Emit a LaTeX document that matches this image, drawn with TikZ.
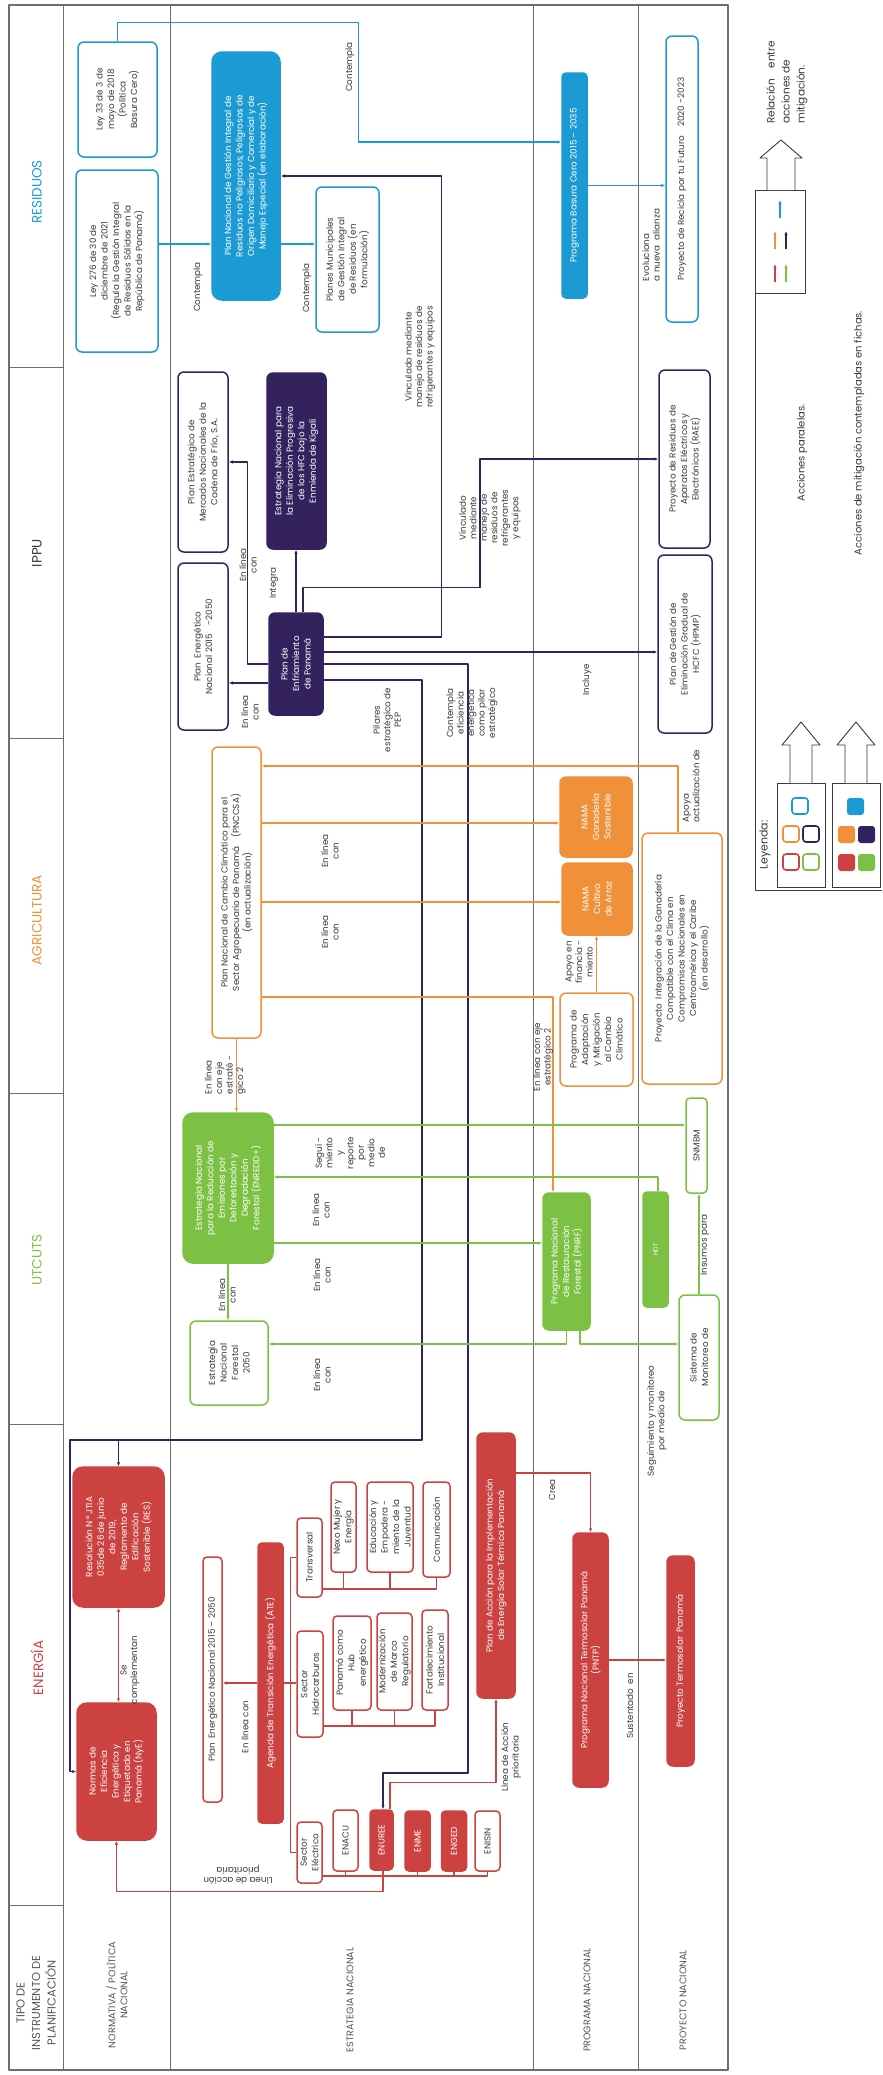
\documentclass[tikz,border=0pt]{standalone}
\usepackage{fontspec}
\setmainfont{Poppins}
\usetikzlibrary{arrows.meta}
\definecolor{fichaCyan}{HTML}{1C9AD3}
\definecolor{fichaPurple}{HTML}{33225E}
\definecolor{fichaOrange}{HTML}{F0913A}
\definecolor{fichaGreen}{HTML}{7CC143}
\definecolor{fichaRed}{HTML}{CB4240}
\definecolor{fichaInk}{HTML}{3A3A3A}
\definecolor{fichaGrid}{HTML}{6E6E6E}

\begin{document}
\begin{tikzpicture}[x=1pt,y=-1pt,>={Latex[length=4pt,width=3.4pt]},line join=round]
\path[fill=white] (0,0) rectangle (882,2075);
\tikzset{box/.style={rotate=90,rounded corners=6pt,line width=1.5pt,inner sep=1pt,align=center,font=\fontsize{8.8}{11.5}\selectfont},cyanbox/.style={box,draw=fichaCyan,fill=white,text=fichaInk},cyanfill/.style={box,draw=fichaCyan,fill=fichaCyan,text=white},purplebox/.style={box,draw=fichaPurple,fill=white,text=fichaInk},purplefill/.style={box,draw=fichaPurple,fill=fichaPurple,text=white},orangebox/.style={box,draw=fichaOrange,fill=white,text=fichaInk},orangefill/.style={box,draw=fichaOrange,fill=fichaOrange,text=white},greenbox/.style={box,draw=fichaGreen,fill=white,text=fichaInk},greenfill/.style={box,draw=fichaGreen,fill=fichaGreen,text=white},redbox/.style={box,draw=fichaRed,fill=white,text=fichaInk},redfill/.style={box,draw=fichaRed,fill=fichaRed,text=white},lblfont/.style={align=center,inner sep=0pt,text=fichaInk,font=\fontsize{8.8}{10.5}\selectfont},lbl/.style={lblfont,rotate=90},head/.style={rotate=90,font=\fontsize{13.5}{15}\selectfont},rowlbl/.style={rotate=90,align=center,text=fichaInk!85,font=\fontsize{9.6}{12}\selectfont},grid/.style={draw=fichaGrid,line width=0.9pt},cyanwire/.style={draw=fichaCyan,line width=1.1pt},purplewire/.style={draw=fichaPurple,line width=1.1pt},orangewire/.style={draw=fichaOrange,line width=1.1pt},greenwire/.style={draw=fichaGreen,line width=1.1pt},redwire/.style={draw=fichaRed,line width=1.1pt},legbox/.style={draw=fichaInk,line width=0.9pt},legtext/.style={lbl,font=\fontsize{10}{12}\selectfont}}
\draw[grid,line width=1.4pt] (9,5) rectangle (728,2070);
\draw[grid] (63,5) -- (63,2070); \draw[grid] (170,5) -- (170,2070);
\draw[grid,line width=0.6pt] (533,5) -- (533,2070); \draw[grid,line width=0.6pt] (638,5) -- (638,2070);
\draw[grid] (9,367) -- (63,367); \draw[grid] (9,738) -- (63,738); \draw[grid] (9,1093) -- (63,1093); \draw[grid] (9,1424) -- (63,1424); \draw[grid] (9,1905) -- (63,1905);
\node[head,text=fichaCyan] (hres) at (37,192) {RESIDUOS};
\node[head,text=fichaInk] (hippu) at (37,553) {IPPU};
\node[head,text=fichaOrange] (hagr) at (37,920) {AGRICULTURA};
\node[head,text=fichaGreen] (hutc) at (37,1260) {UTCUTS};
\node[head,text=fichaRed] (hene) at (37,1668) {ENERGÍA};
\node[rowlbl,font=\fontsize{11.5}{15.5}\selectfont] (htipo) at (36,2003) {TIPO DE\\INSTRUMENTO DE\\PLANIFICACIÓN};
\node[rowlbl] (rnorm) at (117,1995) {NORMATIVA / POLÍTICA\\NACIONAL};
\node[rowlbl] (rest) at (350,2000) {ESTRATEGIA NACIONAL};
\node[rowlbl] (rprog) at (587,2000) {PROGRAMA NACIONAL};
\node[rowlbl] (rproy) at (683,2000) {PROYECTO NACIONAL};
\node[cyanbox,minimum width=115pt,minimum height=79pt] (ley33) at (117.5,99.5) {Ley 33 de 3 de\\mayo de 2018\\(Política\\Basura Cero)};
\node[cyanbox,minimum width=182pt,minimum height=82pt] (ley276) at (117,261) {Ley 276 de 30 de\\diciembre de 2021\\(Regula la Gestión Integral\\de Residuos Sólidos en la\\República de Panamá)};
\node[cyanfill,rounded corners=10pt,minimum width=248pt,minimum height=68pt] (pngir) at (246,176) {Plan Nacional de Gestión Integral de\\Residuos no Peligrosos, Peligrosos de\\Origen Domiciliario y Comercial y de\\Manejo Especial (en elaboración)};
\node[cyanbox,minimum width=145pt,minimum height=63pt] (planmun) at (347.5,259.5) {Planes Municipales\\de Gestión Integral\\de Residuos (en\\formulación)};
\node[cyanfill,rounded corners=4pt,minimum width=225pt,minimum height=25pt] (basura) at (574.5,185.5) {Programa Basura Cero 2015 – 2035};
\node[cyanbox,minimum width=286pt,minimum height=32pt] (recicla) at (682,179) {Proyecto de Recicla por tu Futuro\quad 2020 -2023};
\node[purplebox,minimum width=180pt,minimum height=50pt] (pemn) at (203,462) {Plan Estratégico de\\Mercados Nacionales de la\\Cadena de Frío, S.A.};
\node[purplebox,minimum width=167pt,minimum height=50pt] (penippu) at (203,646.5) {Plan\enspace Energético\\Nacional 2015\quad -2050};
\node[purplefill,minimum width=176pt,minimum height=59pt] (kigali) at (296.5,461) {Estrategia Nacional para\\la Eliminación Progresiva\\de los HFC bajo la\\Enmienda de Kigali};
\node[purplefill,minimum width=102pt,minimum height=54pt] (penf) at (296,664) {Plan de\\Enfriamiento\\de Panamá};
\node[purplebox,minimum width=178pt,minimum height=51pt] (raee) at (684.5,459) {Proyecto de Residuos de\\Aparatos Eléctricos y\\Electrónicos (RAEE)};
\node[purplebox,minimum width=178pt,minimum height=54pt] (hpmp) at (685,644) {Plan de Gestión de\\Eliminación Gradual de\\HCFC (HPMP)};
\node[orangebox,minimum width=291pt,minimum height=49pt] (pnccsa) at (236.5,892.5) {Plan Nacional de Cambio Climático para el\\Sector Agropecuario de Panamá\quad (PNCCSA)\\(en actualización)};
\node[orangefill,minimum width=80pt,minimum height=72pt] (namagan) at (596,817) {NAMA\\Ganadería\\Sostenible};
\node[orangefill,minimum width=72pt,minimum height=70pt] (namaarroz) at (597,899) {NAMA\\Cultivo\\de Arroz};
\node[orangebox,minimum width=93pt,minimum height=73pt] (pamcc) at (596.5,1039.5) {Programa de\\Adaptación\\y Mitigación\\al Cambio\\Climático};
\node[orangebox,minimum width=251pt,minimum height=80pt] (pigcc) at (682,958.5) {Proyecto\enspace Integración de la Ganadería\\Compatible con el Clima en\\Compromisos Nacionales en\\Centroamérica y el Caribe\\(en desarrollo)};
\node[greenfill,rounded corners=10pt,minimum width=150pt,minimum height=90pt] (enredd) at (228,1188) {Estrategia Nacional\\para la Reducción de\\Emisiones por\\Deforestación y\\Degradación\\Forestal (ENREDD+)};
\node[greenbox,minimum width=84pt,minimum height=78pt] (enf2050) at (229,1363) {Estrategia\\Nacional\\Forestal\\2050};
\node[greenfill,minimum width=137pt,minimum height=47pt] (pnrf) at (566.5,1261.5) {Programa Nacional\\de Restauración\\Forestal (PNRF)};
\node[greenbox,rounded corners=4pt,minimum width=95pt,minimum height=21pt] (snmbm) at (696.5,1145.5) {SNMBM};
\node[greenfill,rounded corners=4pt,minimum width=115pt,minimum height=25pt,font=\fontsize{6.5}{8}\selectfont] (hdt) at (655.5,1249.5) {HDT};
\node[greenbox,minimum width=125pt,minimum height=40pt] (sistmon) at (699,1357.5) {Sistema de\\Monitoreo de};
\node[redfill,rounded corners=10pt,minimum width=137pt,minimum height=79pt] (normas) at (116.5,1771.5) {Normas de\\Eficiencia\\Energética y\\Etiquetado en\\Panamá (NyE)};
\node[redfill,rounded corners=10pt,minimum width=140pt,minimum height=91pt] (resol) at (118.5,1537) {Resolución N\,°\,JTIA\\035de 26 de junio\\de 2019,\\Reglamento de\\Edificación\\Sostenible (RES)};
\node[redbox,rounded corners=4pt,minimum width=245pt,minimum height=19pt] (penen) at (212.5,1679.5) {Plan\enspace Energético Nacional 2015 – 2050};
\node[redfill,rounded corners=4pt,minimum width=280pt,minimum height=25pt] (ate) at (270.5,1683) {Agenda de Transición Energética (ATE)};
\node[redbox,rounded corners=4pt,minimum width=79pt,minimum height=25pt] (transv) at (309.5,1557.5) {Transversal};
\node[redbox,rounded corners=4pt,minimum width=90pt,minimum height=25pt] (nexo) at (343.5,1527) {Nexo Mujer y\\Energía};
\node[redbox,rounded corners=4pt,minimum width=90pt,minimum height=46pt] (educ) at (390,1527) {Educación y\\Empodera -\\miento de la\\Juventud};
\node[redbox,rounded corners=4pt,minimum width=95pt,minimum height=27pt] (comun) at (436.5,1529.5) {Comunicación};
\node[redbox,rounded corners=4pt,minimum width=106pt,minimum height=26pt] (hidro) at (310,1684) {Sector\\Hidrocarburos};
\node[redbox,rounded corners=4pt,minimum width=94pt,minimum height=38pt] (hub) at (352,1663) {Panamá como\\Hub\\energético};
\node[redbox,rounded corners=4pt,minimum width=97pt,minimum height=35pt] (moder) at (394.5,1661.5) {Modernización\\de Marco\\Regulatorio};
\node[redbox,rounded corners=4pt,minimum width=100pt,minimum height=26pt] (fortal) at (435,1660) {Fortalecimiento\\Institucional};
\node[redbox,rounded corners=4pt,minimum width=61pt,minimum height=25pt] (selec) at (309.5,1852.5) {Sector\\Eléctrico};
\node[redbox,rounded corners=4pt,minimum width=61pt,minimum height=25pt] (enacu) at (345.5,1840.5) {ENACU};
\node[redfill,rounded corners=4pt,minimum width=60pt,minimum height=23pt] (enuree) at (381.5,1840) {ENUREE};
\node[redfill,rounded corners=4pt,minimum width=60pt,minimum height=25pt] (enme) at (417.5,1841) {ENME};
\node[redfill,rounded corners=4pt,minimum width=60pt,minimum height=25pt] (enged) at (454,1841) {ENGED};
\node[redbox,rounded corners=4pt,minimum width=60pt,minimum height=25pt] (enisin) at (487.5,1841) {ENISIN};
\node[redfill,rounded corners=6pt,minimum width=265pt,minimum height=38pt] (pacc) at (496,1565.5) {Plan de Acción para la Implementación\\de Energía Solar Térmica Panamá};
\node[redfill,rounded corners=6pt,minimum width=254pt,minimum height=35pt] (pntp) at (590.5,1660) {Programa Nacional Termosolar Panamá\\(PNTP)};
\node[redfill,rounded corners=6pt,minimum width=210pt,minimum height=27pt] (ptermo) at (680.5,1661) {Proyecto Termosolar\enspace Panamá};
\coordinate (kE) at (468,1773);
\coordinate (pA) at (422,1440);
\coordinate (pB) at (70,1440);
\draw[cyanwire,->] (ley276.south |- 0,244) -- (pngir.north |- 0,244);
\draw[cyanwire,->] (pngir.south |- 0,244) -- (planmun.north |- 0,244);
\draw[cyanwire,->] (ley33.east) |- ++(241,-19) |- (basura.north |- 0,142);
\draw[cyanwire,->] (basura.south) -- (basura.south -| recicla.north);
\node[lbl] (tc1) at (198,287) {Contempla};
\node[lbl] (tc2) at (307,288) {Contempla};
\node[lbl] (tc3) at (350,67) {Contempla};
\node[lbl,align=left] (tc4) at (651,245) {Evoluciona\\a nueva\enspace alianza};
\draw[purplewire,->] (penf.north |- 0,683) -- (penippu.south |- 0,683);
\draw[purplewire,->] (penf.north) -- ++(-21,0) |- (pemn.south);
\draw[purplewire,->] (penf.east) -- (penf.east |- kigali.west);
\draw[purplewire,->] ([xshift=7pt]penf.east) |- ++(177,-25) |- (raee.north);
\draw[purplewire,->] (penf.south |- 0,637) -- ++(118,0) |- (pngir.south);
\draw[purplewire,->] (penf.south |- 0,652) -- (hpmp.north |- 0,652);
\draw[purplewire,->] (penf.south) -| (kE) -| ([xshift=1.5pt]enuree.east);
\draw[purplewire,->] (penf.south |- 0,680) -| (pA) -- (pB) |- (normas.north);
\draw[purplewire,->] (resol.east |- pA) -- (resol.east);
\node[lbl] (tp1) at (250,712) {En línea\\con};
\node[lbl] (tp2) at (248,565) {En línea\\con};
\node[lbl] (tp3) at (274,583) {Integra};
\node[lbl] (tp4) at (420,357) {Vinculado mediante\\manejo de residuos de\\refrigerantes y equipos};
\node[lbl] (tp5) at (490,518) {Vinculado\\mediante\\manejo de\\residuos de\\refrigerantes\\y equipos};
\node[lbl] (tp6) at (587,680) {Incluye};
\node[lbl] (tp7) at (472,713) {Contempla\\eficiencia\\energética\\como pilar\\estratégico};
\node[lbl] (tp8) at (387,720) {Pilares\\estratégico de\\PEP};
\draw[orangewire,->] ([xshift=-4pt]pigcc.east) |- (pnccsa.south |- 0,766);
\draw[orangewire,->] (pnccsa.south |- 0,823) -- (namagan.north |- 0,823);
\draw[orangewire,->] (pnccsa.south |- 0,902) -- (namaarroz.north |- 0,902);
\draw[orangewire,->] (pnccsa.south |- 0,997) -| ([xshift=-13.5pt]pnrf.east);
\draw[orangewire,->] (pamcc.east) -- (pamcc.east |- namaarroz.west);
\draw[orangewire,->] (pnccsa.west) -- (pnccsa.west |- enredd.east);
\node[lbl] (to1) at (330,851) {En línea\\con};
\node[lbl] (to2) at (330,932) {En línea\\con};
\node[lbl] (to3) at (543,1057) {En línea con eje\\estratégico 2};
\node[lbl] (to4) at (579,962) {Apoyo en\\financia -\\miento};
\node[lbl,align=left] (to5) at (691,786) {Apoya\\actualización de};
\node[lbl,align=left] (to6) at (225,1075) {En línea\\con eje\\estraté -\\gico 2};
\draw[greenwire,->] (enredd.south |- 0,1125) -- (snmbm.north |- 0,1125);
\draw[greenwire,->] ([xshift=2.5pt]hdt.east) |- (enredd.south |- 0,1177);
\draw[greenwire,->] (enredd.south |- 0,1243) -- (pnrf.north |- 0,1243);
\draw[greenwire,->] (pnrf.west) |- (enf2050.south |- 0,1344);
\draw[greenwire,->] ([xshift=13.5pt]pnrf.west) |- (sistmon.north |- 0,1344);
\draw[greenwire,->] (sistmon.east) -- (sistmon.east |- snmbm.west);
\draw[greenwire,->] (enredd.west) -- (enredd.west |- enf2050.east);
\node[lbl] (tg1) at (350,1153) {Segui -\\miento\\y\\reporte\\por\\medio\\de};
\node[lbl] (tg2) at (321,1210) {En línea\\con};
\node[lbl] (tg3) at (322,1275) {En línea\\con};
\node[lbl] (tg4) at (322,1375) {En línea\\con};
\node[lbl] (tg5) at (227,1295) {En línea\\con};
\node[lbl] (tg6) at (657,1421) {Seguimiento y monitoreo\\por medio de};
\node[lbl] (tg7) at (705,1245) {Insumos para};
\draw[redwire] (transv.north) -- ++(-6,0) |- (selec.north);
\draw[redwire] (ate.south) -- (ate.south -| hidro.north);
\draw[redwire] (transv.south |- 0,1589) -| (comun.west);
\draw[redwire] (nexo.west) -- (nexo.west |- 0,1589);
\draw[redwire] (educ.west) -- (educ.west |- 0,1589);
\draw[redwire] (hidro.south |- 0,1726) -| (fortal.west);
\draw[redwire] (hub.west) -- (hub.west |- 0,1726);
\draw[redwire] (moder.west) -- (moder.west |- 0,1726);
\draw[redwire] (selec.south |- 0,1876) -| (enisin.west);
\draw[redwire] (enacu.west) -- (enacu.west |- 0,1876);
\draw[redwire] (enme.west) -- (enme.west |- 0,1876);
\draw[redwire] (enged.west) -- (enged.west |- 0,1876);
\draw[redwire,->] ([xshift=1.5pt]enuree.west) -- ++(0,21) -| (normas.west);
\draw[redwire,<->] (resol.west) -- (resol.west |- normas.east);
\draw[redwire,->] (ate.north) -- (penen.south |- ate.north);
\draw[redwire,->] ([xshift=8.5pt]enuree.east) -- ++(0,-27) -| (pacc.west);
\draw[redwire,->] (pacc.south |- 0,1473) -| (pntp.east);
\draw[redwire,->] (pntp.south) -- (ptermo.north |- pntp.south);
\node[lbl] (tr1) at (130,1670) {Se\\complementan};
\node[lblfont,rotate=180] (tr2) at (238,1875) {Línea de acción\\prioritaria};
\node[lbl] (tr3) at (245,1727) {En línea con};
\node[lbl] (tr4) at (511,1757) {Línea de Acción\\prioritaria};
\node[lbl] (tr5) at (552,1490) {Crea};
\node[lbl] (tr6) at (630,1706) {Sustentado\enspace en};
\node[legtext,font=\fontsize{10.5}{15}\selectfont,anchor=west,align=left] (lrel) at (787,124) {Relación\quad entre\\acciones de\\mitigación.};
\draw[legbox] (755,293) -- (755,890) -- (882,890);
\draw[legbox] (755,190) rectangle (805,293);
\draw[legbox,fill=white] (767,190) -- (767,158) -- (760,158) -- (781,140) -- (802,158) -- (795,158) -- (795,190);
\draw[fichaCyan,line width=1.3pt,->] (780,218) -- (780,200);
\draw[fichaOrange,line width=1.3pt,->] (775,249) -- (775,231);
\draw[fichaPurple,line width=1.3pt,->] (786,249) -- (786,231);
\draw[fichaRed,line width=1.3pt,->] (775,282) -- (775,264);
\draw[fichaGreen,line width=1.3pt,->] (786,282) -- (786,264);
\node[legtext] (lpar) at (802,453) {Acciones paralelas.};
\node[legtext] (lmit) at (859,433) {Acciones de mitigación contempladas en fichas.};
\node[legtext,font=\fontsize{11}{12}\selectfont] (lley) at (765,845) {Leyenda:};
\draw[legbox] (777,783) rectangle (825,887);
\draw[legbox] (832,783) rectangle (880,887);
\draw[legbox,fill=white] (790,783) -- (790,745) -- (782,745) -- (801,722) -- (820,745) -- (812,745) -- (812,783);
\draw[legbox,fill=white] (845,783) -- (845,745) -- (837,745) -- (856,722) -- (875,745) -- (867,745) -- (867,783);
\draw[fichaCyan,line width=1.6pt,rounded corners=3pt] (792,798) rectangle (808,814);
\draw[fichaOrange,line width=1.6pt,rounded corners=3pt] (783,826) rectangle (799,842);
\draw[fichaPurple,line width=1.6pt,rounded corners=3pt] (803,826) rectangle (819,842);
\draw[fichaRed,line width=1.6pt,rounded corners=3pt] (783,854) rectangle (799,870);
\draw[fichaGreen,line width=1.6pt,rounded corners=3pt] (803,854) rectangle (819,870);
\fill[fichaCyan,rounded corners=3pt] (847,798) rectangle (864,815);
\fill[fichaOrange,rounded corners=3pt] (838,826) rectangle (855,843);
\fill[fichaPurple,rounded corners=3pt] (858,826) rectangle (875,843);
\fill[fichaRed,rounded corners=3pt] (838,854) rectangle (855,871);
\fill[fichaGreen,rounded corners=3pt] (858,854) rectangle (875,871);
\end{tikzpicture}
\end{document}
